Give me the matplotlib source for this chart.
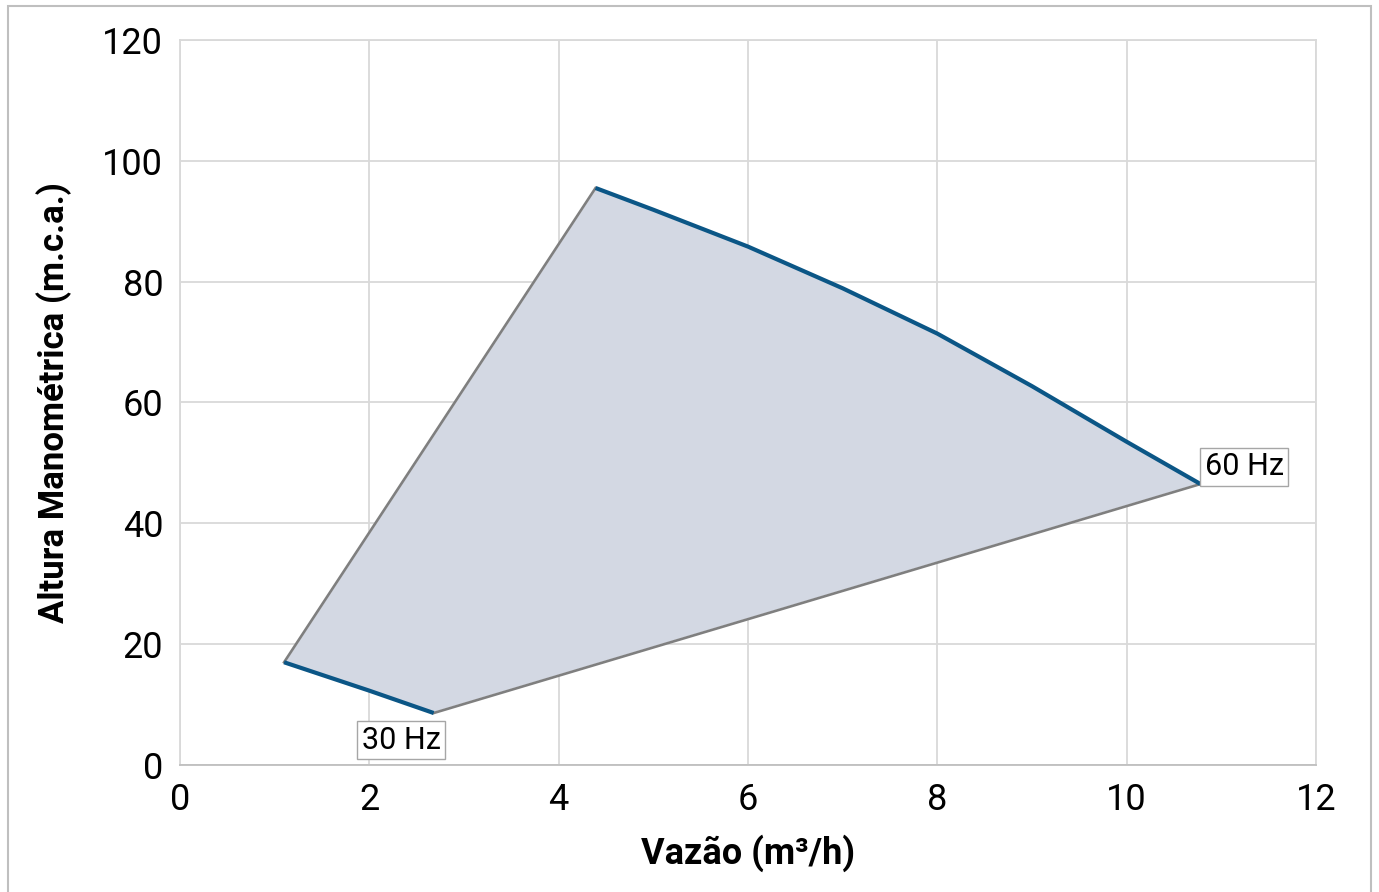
import matplotlib.pyplot as plt
from matplotlib.patches import Rectangle

# operating curves
hz60_x = [4.39, 5.0, 6.0, 7.0, 8.0, 9.0, 10.0, 10.78]
hz60_y = [95.5, 91.9, 85.8, 78.9, 71.4, 62.7, 53.5, 46.5]
hz30_x = [1.1, 2.0, 2.68]
hz30_y = [17.0, 12.3, 8.6]
x_ticks = [0, 2, 4, 6, 8, 10, 12]
y_ticks = [0, 20, 40, 60, 80, 100, 120]

fam = ['Roboto', 'DejaVu Sans']
plt.rcParams['font.family'] = fam

blue = '#0b5686'
grey = '#7f7f7f'

fig = plt.figure(figsize=(13.79, 8.92), dpi=100, facecolor='w')
ax = fig.add_axes([0.1305, 0.1424, 0.8238, 0.8128])

# shaded operating region
poly_x = hz30_x + hz60_x[::-1]
poly_y = hz30_y + hz60_y[::-1]
ax.fill(poly_x, poly_y, facecolor='#d3d8e3', edgecolor='white', lw=1.5, zorder=2)

# min / max flow limits
ax.plot([hz30_x[0], hz60_x[0]], [hz30_y[0], hz60_y[0]], c=grey, lw=1.9, zorder=3)
ax.plot([hz30_x[-1], hz60_x[-1]], [hz30_y[-1], hz60_y[-1]], c=grey, lw=1.9, zorder=3)

# speed curves
ax.plot(hz60_x, hz60_y, c=blue, lw=3, zorder=4, solid_capstyle='butt',
        solid_joinstyle='round')
ax.plot(hz30_x, hz30_y, c=blue, lw=3, zorder=4, solid_capstyle='butt',
        solid_joinstyle='round')

box = dict(boxstyle='square,pad=0.15', fc='white', ec='#a6a6a6', lw=1)
ax.annotate('60 Hz', (hz60_x[-1], hz60_y[-1]), xytext=(3, 2),
            textcoords='offset points', ha='left', va='bottom',
            fontsize=22, bbox=box, zorder=5)
ax.annotate('30 Hz', (hz30_x[-1], hz30_y[-1]), xytext=(5, -9),
            textcoords='offset points', ha='right', va='top',
            fontsize=22, bbox=box, zorder=5)

ax.set_xlim(0, 12)
ax.set_ylim(0, 120)
ax.set_xticks(x_ticks)
ax.set_yticks(y_ticks)
ax.tick_params(length=0, labelsize=26, pad=12)
ax.grid(True, c='#d9d9d9', lw=1.3, zorder=0)
ax.set_axisbelow(True)
for spine in ax.spines.values():
    spine.set_color('#d9d9d9')
    spine.set_linewidth(1.3)
ax.spines['bottom'].set_color('#bfbfbf')

ax.set_xlabel('Vazão (m³/h)', fontsize=26, fontweight='bold', labelpad=12)
ax.set_ylabel('Altura Manométrica (m.c.a.)', fontsize=25, fontweight='bold',
              labelpad=22)

# outer frame of the chart area
fig.patches.append(Rectangle((0.0058, -0.05), 0.9884, 1.0433,
                             transform=fig.transFigure, fill=False,
                             ec='#bfbfbf', lw=1.5))

fig.savefig('out.png', dpi=100)
